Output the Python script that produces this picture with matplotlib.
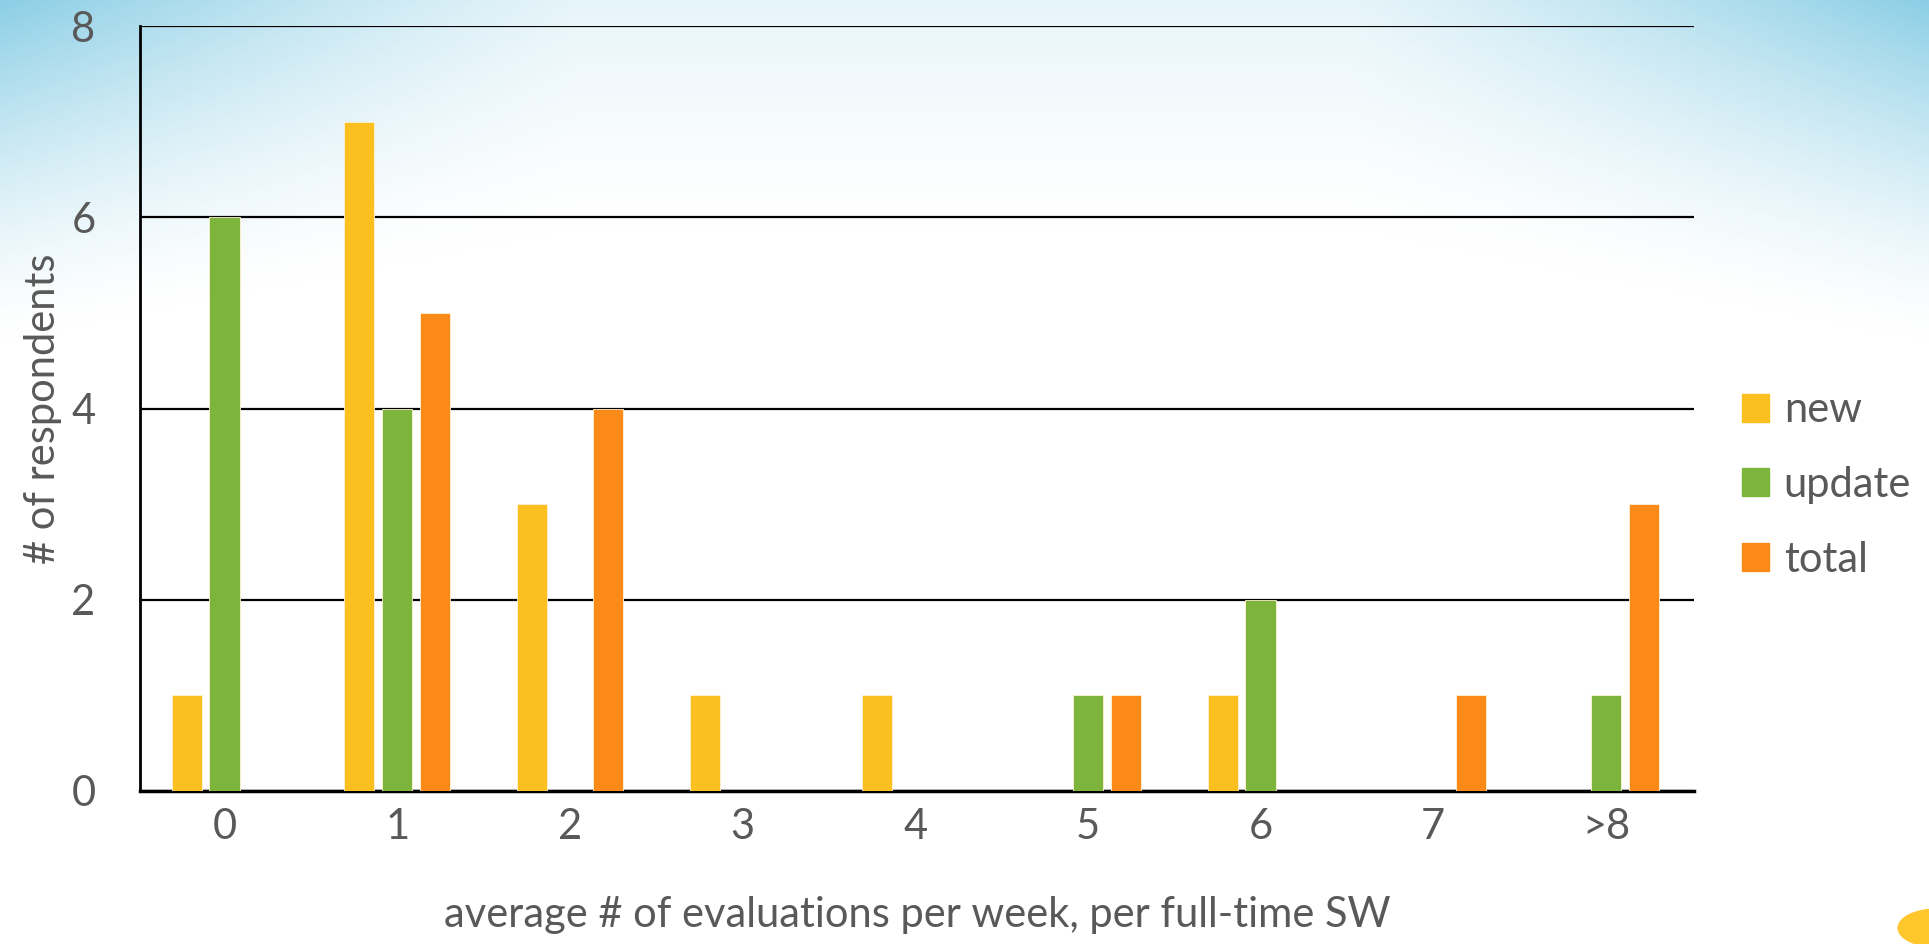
import matplotlib.pyplot as plt
import numpy as np
from matplotlib.patches import Circle, Patch

plt.rcParams['font.family'] = ['Lato', 'DejaVu Sans']

# Dados
categorias = ['0', '1', '2', '3', '4', '5', '6', '7', '>8']
novo = [1, 7, 3, 1, 1, 0, 1, 0, 0]
atualizacao = [6, 4, 0, 0, 0, 1, 2, 0, 1]
total = [0, 5, 4, 0, 0, 1, 0, 1, 3]

series = ['new', 'update', 'total']
cores = ['#FBBF1F', '#7CB43C', '#FC8A18']
cinza = '#595959'

W, H = 1929, 944
fig = plt.figure(figsize=(W / 100, H / 100), dpi=100)

# Fundo do slide: degrade azul claro no topo, mais forte nos cantos
bg = fig.add_axes([0, 0, 1, 1], zorder=0)
yy, xx = np.mgrid[0:1:300j, 0:1:400j]
borda = np.maximum(np.clip(1 - xx / 0.3, 0, 1), np.clip((xx - 0.7) / 0.3, 0, 1))
alcance = 0.24 + 0.12 * borda
t = np.clip(1 - yy / alcance, 0, 1) ** 1.4 * (0.22 + 0.78 * borda ** 1.2)
topo = np.array([0.55, 0.81, 0.90])
branco = np.array([1.0, 1.0, 1.0])
img = branco[None, None, :] * (1 - t[..., None]) + topo[None, None, :] * t[..., None]
bg.imshow(img, extent=[0, 1, 0, 1], aspect='auto', origin='upper')
bg.add_patch(Circle((1.004, 0.017), 0.02, color='#FFC72C', transform=bg.transAxes))
bg.set_xlim(0, 1)
bg.set_ylim(0, 1)
bg.axis('off')

# Grafico
ax = fig.add_axes([140 / W, 1 - 791 / H, (1694 - 140) / W, (791 - 26) / H], zorder=1)
ax.patch.set_alpha(0)
x = np.arange(len(categorias))
largura = 0.175
desloc = 0.22
for i, (vals, cor, nome) in enumerate(zip([novo, atualizacao, total], cores, series)):
    ax.bar(x + (i - 1) * desloc, vals, largura, color=cor, edgecolor='#FFF3D6',
           linewidth=0.6, label=nome, zorder=3)

ax.set_xlim(-0.49, 8.51)
ax.set_ylim(0, 8)
ax.set_yticks([0, 2, 4, 6, 8])
ax.set_xticks(x)
ax.set_xticklabels(categorias)
ax.yaxis.grid(True, color='black', linewidth=1.6, zorder=1)
ax.set_axisbelow(True)
ax.spines['right'].set_visible(False)
ax.spines['top'].set_visible(False)
ax.spines['left'].set_linewidth(2)
ax.spines['bottom'].set_linewidth(2.5)
ax.tick_params(length=0, labelsize=30, colors=cinza, pad=12)
ax.tick_params(axis='y', pad=32)

ax.set_ylabel('# of respondents', fontsize=30, color=cinza, labelpad=7)
ax.set_xlabel('average # of evaluations per week, per full-time SW', fontsize=30,
              color=cinza, labelpad=36)

handles = [Patch(color=c, label=s) for c, s in zip(cores, series)]
leg = fig.legend(handles=handles, loc='center left', bbox_to_anchor=(1742 / W, 1 - 485 / H),
                 frameon=False, fontsize=30, handlelength=0.65, handleheight=0.65,
                 handletextpad=0.35, labelspacing=0.88, labelcolor=cinza,
                 borderpad=0, borderaxespad=0)

plt.savefig('out.png', dpi=100)
